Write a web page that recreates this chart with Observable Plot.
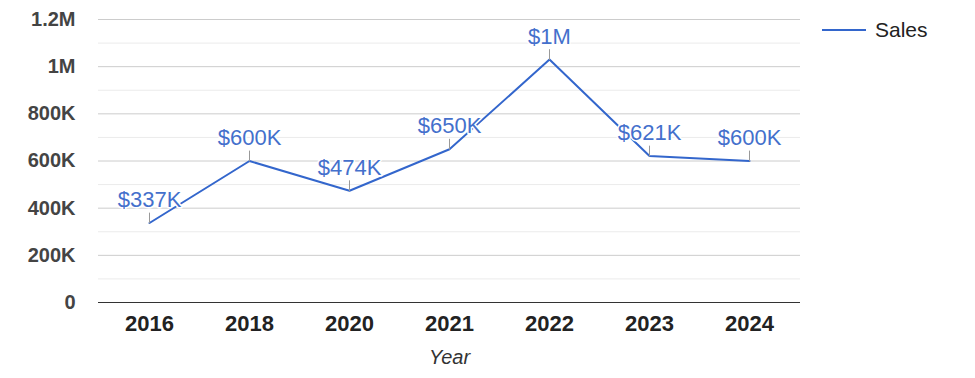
<!DOCTYPE html>
<html>
<head>
<meta charset="utf-8">
<script src="https://cdn.jsdelivr.net/npm/d3@7"></script>
<script src="https://cdn.jsdelivr.net/npm/@observablehq/plot@0.6"></script>
<style>
  body { margin: 0; background: #fff; font-family: "Liberation Sans", Arial, sans-serif; }
  #wrap { position: relative; width: 975px; height: 378px; }
  #legend { position: absolute; left: 822px; top: 18px; height: 24px; display: flex; align-items: center; font-size: 21px; color: #222; z-index: 2; }
  #legend .sw { width: 44px; height: 2px; background: #3366cc; margin-right: 9px; }
</style>
</head>
<body>
<div id="wrap"><div id="legend"><span class="sw"></span><span>Sales</span></div></div>
<script>
const years = ["2016", "2018", "2020", "2021", "2022", "2023", "2024"];
const sales = [337000, 600000, 474000, 650000, 1030000, 621000, 600000];
const valueLabels = ["$337K", "$600K", "$474K", "$650K", "$1M", "$621K", "$600K"];
const majorTicks = [0, 200000, 400000, 600000, 800000, 1000000, 1200000];
const majorTickLabels = ["0", "200K", "400K", "600K", "800K", "1M", "1.2M"];
const minorTicks = [100000, 300000, 500000, 700000, 900000, 1100000];

const data = years.map((y, i) => ({year: y, sales: sales[i], label: valueLabels[i]}));
const fmt = v => majorTickLabels[majorTicks.indexOf(v)];
const lineColor = "#3366cc";

const stem = { draw(context, l) { context.moveTo(0, 0); context.lineTo(0, -l); } };

const chart = Plot.plot({
  width: 975,
  height: 378,
  marginLeft: 98,
  marginRight: 175,
  marginTop: 19,
  marginBottom: 76,
  style: { fontFamily: "'Liberation Sans', Arial, sans-serif", background: "transparent" },
  x: { type: "point", domain: years, padding: 0.5 },
  y: { domain: [0, 1200000] },
  marks: [
    Plot.gridY(minorTicks, { stroke: "#ebebeb", strokeOpacity: 1 }),
    Plot.gridY(majorTicks.slice(1), { stroke: "#cccccc", strokeOpacity: 1 }),
    Plot.ruleY([0], { stroke: "#333" }),
    Plot.axisY(majorTicks, { tickSize: 0, tickPadding: 23, tickFormat: fmt, fontSize: 20, fontWeight: "bold", fill: "#444", label: null }),
    Plot.axisX(years, { tickSize: 0, tickPadding: 13, fontSize: 22, fontWeight: "bold", fill: "#222", label: null }),
    Plot.text(["Year"], { frameAnchor: "bottom", dy: 55, lineAnchor: "middle", fontSize: 20, fontStyle: "italic", fill: "#333" }),
    Plot.line(data, { x: "year", y: "sales", stroke: lineColor, strokeWidth: 2 }),
    Plot.vector(data, { x: "year", y: "sales", length: 10, rotate: 0, anchor: "start", shape: stem, stroke: "#999", strokeWidth: 1 }),
    Plot.text(data, { x: "year", y: "sales", text: "label", dy: -23, lineAnchor: "middle", fontSize: 22, fill: "#4470cc", stroke: "white", strokeWidth: 3 })
  ]
});
document.getElementById("wrap").prepend(chart);
chart.style.position = "absolute";
chart.style.left = "0";
chart.style.top = "0";
</script>
</body>
</html>
